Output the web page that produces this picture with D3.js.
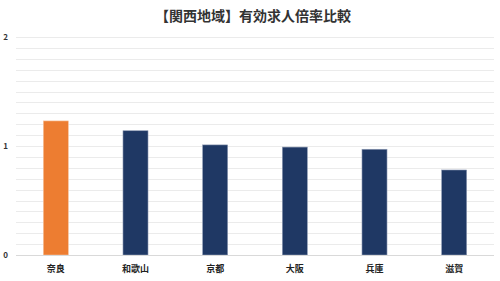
<!DOCTYPE html>
<html lang="ja">
<head>
<meta charset="UTF-8">
<title>関西地域 有効求人倍率比較</title>
<style>
  body { margin: 0; background: #fff; }
  text { font-family: "Noto Sans CJK JP", "Noto Sans", sans-serif; }
</style>
</head>
<body>
<svg id="chart" width="500" height="281"></svg>
<script src="https://d3js.org/d3.v7.min.js"></script>
<script>
const prefectures = ["奈良", "和歌山", "京都", "大阪", "兵庫", "滋賀"];
const ratios = [1.23, 1.14, 1.01, 0.99, 0.97, 0.78];
const yTicks = [0, 1, 2];
const title = "【関西地域】有効求人倍率比較";

const width = 500, height = 281;
const plotLeft = 16, plotRight = 494, plotTop = 37, plotBottom = 255;

const svg = d3.select("#chart");

const x = d3.scaleBand()
  .domain(prefectures)
  .range([plotLeft, plotRight])
  .paddingInner(0.686)
  .paddingOuter(0.343);

const y = d3.scaleLinear()
  .domain([0, 2])
  .range([plotBottom, plotTop]);

// minor gridlines every 0.1
svg.append("g")
  .selectAll("line")
  .data(d3.range(1, 21).map(d => d / 10))
  .join("line")
  .attr("x1", plotLeft)
  .attr("x2", plotRight)
  .attr("y1", d => Math.round(y(d)) + 0.5)
  .attr("y2", d => Math.round(y(d)) + 0.5)
  .attr("stroke", "#ebebeb")
  .attr("stroke-width", 1);

// y labels
const yAxis = d3.axisLeft(y).tickValues(yTicks).tickSize(0).tickPadding(0).tickFormat(d3.format("d"));
svg.append("g")
  .attr("transform", "translate(8,0)")
  .call(yAxis)
  .call(g => g.select(".domain").remove())
  .selectAll("text")
  .attr("font-size", 8)
  .attr("font-weight", "bold")
  .attr("fill", "#333");

// bars
svg.append("g")
  .selectAll("rect")
  .data(prefectures)
  .join("rect")
  .attr("x", d => x(d))
  .attr("y", (d, i) => y(ratios[i]))
  .attr("width", x.bandwidth())
  .attr("height", (d, i) => y(0) - y(ratios[i]))
  .attr("fill", (d, i) => i === 0 ? "#ED7D31" : "#1F3864")
  .attr("stroke", (d, i) => i === 0 ? "#f6c49f" : "#8e9ab3")
  .attr("stroke-width", 0.6);

// baseline
svg.append("line")
  .attr("x1", plotLeft)
  .attr("x2", plotRight)
  .attr("y1", Math.round(y(0)) + 0.5)
  .attr("y2", Math.round(y(0)) + 0.5)
  .attr("stroke", "#d9d9d9");

// x labels
const xAxis = d3.axisBottom(x).tickSize(0).tickPadding(0);
svg.append("g")
  .attr("transform", "translate(0,266)")
  .call(xAxis)
  .call(g => g.select(".domain").remove())
  .selectAll("text")
  .attr("font-size", 9)
  .attr("font-weight", "bold")
  .attr("fill", "#222");

// title
svg.append("text")
  .attr("x", 253)
  .attr("y", 21)
  .attr("text-anchor", "middle")
  .attr("font-size", 14)
  .attr("font-weight", "bold")
  .attr("fill", "#333")
  .text(title);
</script>
</body>
</html>
